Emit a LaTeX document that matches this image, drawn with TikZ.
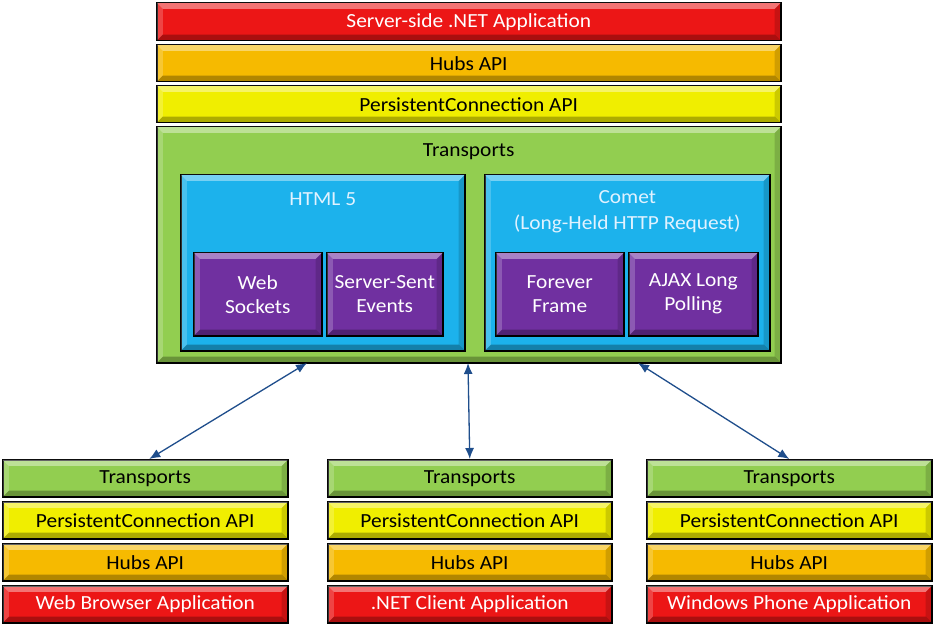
\documentclass[tikz,border=0pt]{standalone}
\usepackage{fontspec}
\setmainfont[FakeStretch=1.07]{Carlito}
\usetikzlibrary{arrows.meta}
\definecolor{cred}{RGB}{236,22,22}
\definecolor{chubs}{RGB}{246,186,0}
\definecolor{cpers}{RGB}{240,238,0}
\definecolor{cgreen}{RGB}{146,206,80}
\definecolor{cblue}{RGB}{28,178,236}
\definecolor{cpurple}{RGB}{112,48,160}
\definecolor{carrow}{RGB}{31,78,140}
\definecolor{cbtext}{RGB}{225,242,255}
\tikzset{
  box/.style={draw=black, line width=1.5pt, inner sep=0pt, font=\fontsize{20}{24}\selectfont, align=center},
  redbox/.style={box, fill=cred, text=white},
  hubsbox/.style={box, fill=chubs, text=black},
  persbox/.style={box, fill=cpers, text=black},
  greenbox/.style={box, fill=cgreen, text=black},
  bluebox/.style={box, fill=cblue, text=cbtext},
  purplebox/.style={box, fill=cpurple, text=white},
  lite/.style={fill=white, opacity=.4},
  lite2/.style={fill=white, opacity=.2},
  dark/.style={fill=black, opacity=.28},
  dark2/.style={fill=black, opacity=.15},
  txt/.style={inner sep=0pt, font=\fontsize{20}{26}\selectfont, align=center},
  link/.style={draw=carrow, line width=1.3pt, {Latex[length=11pt,width=9pt]}-{Latex[length=11pt,width=9pt]}}
}
\newcommand\bx[7]{%
  \node[#6, anchor=north west, minimum width={(#4-#2)*1pt}, minimum height={(#5-#3)*1pt}] (#1) at (#2,#3) {};
  \coordinate (NW) at ([shift={(0.8pt,-0.8pt)}]#1.north west);
  \coordinate (NE) at ([shift={(-0.8pt,-0.8pt)}]#1.north east);
  \coordinate (SW) at ([shift={(0.8pt,0.8pt)}]#1.south west);
  \coordinate (SE) at ([shift={(-0.8pt,0.8pt)}]#1.south east);
  \path[lite] (NW) -- (NE) -- ([shift={(-6pt,-6pt)}]NE) -- ([shift={(6pt,-6pt)}]NW) -- cycle;
  \path[lite2] (NW) -- ([shift={(6pt,-6pt)}]NW) -- ([shift={(6pt,6pt)}]SW) -- (SW) -- cycle;
  \path[dark] (SW) -- (SE) -- ([shift={(-6pt,6pt)}]SE) -- ([shift={(6pt,6pt)}]SW) -- cycle;
  \path[dark2] (NE) -- ([shift={(-6pt,-6pt)}]NE) -- ([shift={(-6pt,6pt)}]SE) -- (SE) -- cycle;
  \node[#6, draw=none, fill=none] at (#1.center) {#7};}
\begin{document}
\begin{tikzpicture}[x=1pt,y=-1pt]
\fill[white] (0,0) rectangle (934,628);
\useasboundingbox (0,0) rectangle (934,628);
% server stack
\bx{sapp}{156}{2}{780}{40}{redbox}{Server-side .NET Application}
\bx{shubs}{156}{44}{780}{81}{hubsbox}{Hubs API}
\bx{spers}{156}{85}{780}{122}{persbox}{PersistentConnection API}
\bx{strans}{156}{126}{780}{362}{greenbox}{}
\node[txt] (stransT) at ([yshift=-26pt]strans.north) {Transports};
\bx{html}{180}{174}{464}{350}{bluebox}{}
\node[txt, text=cbtext] (htmlT) at ([yshift=-25pt]html.north) {HTML 5};
\bx{comet}{484}{174}{769}{350}{bluebox}{}
\node[txt, text=cbtext] (cometT) at ([yshift=-38pt]comet.north) {Comet\\(Long-Held HTTP Request)};
\bx{ws}{193}{252}{321}{335}{purplebox}{Web\\Sockets}
\bx{sse}{326}{252}{442}{335}{purplebox}{Server-Sent\\Events}
\bx{ff}{495}{252}{623}{335}{purplebox}{Forever\\Frame}
\bx{ajax}{628}{252}{757}{335}{purplebox}{AJAX Long\\Polling}
% client stacks
\bx{lt}{2}{459}{287}{496}{greenbox}{Transports}
\bx{lp}{2}{501}{287}{538}{persbox}{PersistentConnection API}
\bx{lh}{2}{543}{287}{580}{hubsbox}{Hubs API}
\bx{la}{2}{585}{287}{622}{redbox}{Web Browser Application}
\bx{mt}{327}{459}{611}{496}{greenbox}{Transports}
\bx{mp}{327}{501}{611}{538}{persbox}{PersistentConnection API}
\bx{mh}{327}{543}{611}{580}{hubsbox}{Hubs API}
\bx{ma}{327}{585}{611}{622}{redbox}{.NET Client Application}
\bx{rt}{646}{459}{931}{496}{greenbox}{Transports}
\bx{rp}{646}{501}{931}{538}{persbox}{PersistentConnection API}
\bx{rh}{646}{543}{931}{580}{hubsbox}{Hubs API}
\bx{ra}{646}{585}{931}{622}{redbox}{Windows Phone Application}
% connectors
\coordinate (c1) at (307,363);
\coordinate (c2) at (468,363);
\coordinate (c3) at (638,363);
\draw[link] (c1) -- ([xshift=4pt]lt.north);
\draw[link] (c2) -- (mt.north);
\draw[link] (c3) -- (rt.north);
\end{tikzpicture}
\end{document}
